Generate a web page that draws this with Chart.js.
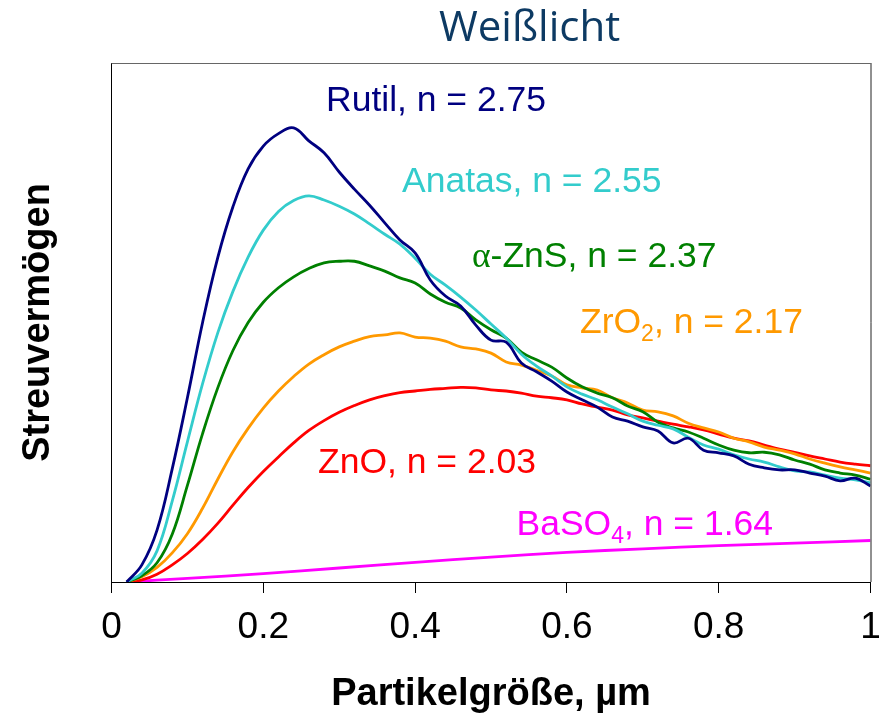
<!DOCTYPE html>
<html>
<head>
<meta charset="utf-8">
<script src="https://cdn.jsdelivr.net/npm/chart.js@4.4.1/dist/chart.umd.min.js"></script>
<style>
  html, body { margin: 0; padding: 0; background: #ffffff; }
  #wrap { width: 887px; height: 718px; position: relative; }
  canvas { display: block; }
</style>
</head>
<body>
<div id="wrap"><canvas id="c" width="887" height="718"></canvas></div>
<script>
// ---- data ----
const chartTitle = "Weißlicht";
const xAxisTitle = "Partikelgröße, µm";
const yAxisTitle = "Streuvermögen";
const xTickValues = [0, 0.2, 0.4, 0.6, 0.8, 1];
const xTickLabels = ["0", "0.2", "0.4", "0.6", "0.8", "1"];

const particleSize = [0.02, 0.04, 0.06, 0.08, 0.10, 0.12, 0.14, 0.16, 0.18, 0.20,
  0.22, 0.24, 0.26, 0.28, 0.30, 0.32, 0.34, 0.36, 0.38, 0.40,
  0.42, 0.44, 0.46, 0.48, 0.50, 0.52, 0.54, 0.56, 0.58, 0.60,
  0.62, 0.64, 0.66, 0.68, 0.70, 0.72, 0.74, 0.76, 0.78, 0.80,
  0.82, 0.84, 0.86, 0.88, 0.90, 0.92, 0.94, 0.96, 0.98, 1.00];

const rutil = [0, 3.3, 10.0, 21.8, 35.5, 50.0, 62.5, 72.3, 79.6, 84.0,
  86.4, 87.5, 85.0, 82.7, 79.0, 75.7, 72.6, 69.2, 65.9, 63.4,
  58.2, 55.1, 53.2, 49.5, 46.6, 46.2, 42.2, 40.5, 38.7, 36.6,
  35.1, 33.7, 31.8, 31.0, 29.9, 29.1, 26.8, 27.7, 25.4, 24.9,
  24.3, 22.7, 22.0, 21.6, 21.6, 21.0, 20.4, 19.5, 20.0, 18.5];

const anatas = [0, 1.7, 6.0, 15.6, 27.0, 38.2, 48.0, 56.0, 62.6, 67.8,
  71.4, 73.5, 74.4, 73.6, 72.4, 70.9, 69.0, 67.0, 65.1, 62.4,
  59.3, 57.2, 54.9, 52.4, 49.7, 47.0, 43.9, 41.6, 39.7, 37.6,
  36.2, 35.1, 33.7, 32.4, 31.0, 30.2, 29.5, 27.9, 26.4, 25.6,
  24.5, 23.7, 23.1, 22.2, 21.4, 21.2, 20.6, 20.0, 19.7, 19.1];

const zns = [0, 1.2, 3.7, 9.2, 18.6, 28.6, 37.4, 44.6, 50.0, 53.9,
  56.7, 58.8, 60.4, 61.5, 61.8, 61.8, 60.9, 59.9, 58.6, 57.6,
  55.5, 53.9, 52.8, 50.5, 48.6, 47.0, 44.3, 42.8, 41.4, 39.3,
  37.6, 36.4, 35.5, 33.9, 32.8, 30.8, 29.7, 28.9, 27.7, 26.4,
  25.4, 24.9, 25.0, 24.5, 23.5, 22.7, 21.6, 21.0, 20.6, 19.8];

const zro2 = [0, 1.0, 2.8, 5.6, 9.3, 14.2, 19.8, 25.1, 29.6, 33.5,
  36.8, 39.6, 42.0, 43.8, 45.3, 46.4, 47.3, 47.6, 48.0, 47.2,
  47.0, 46.4, 45.3, 44.9, 44.1, 42.4, 41.8, 40.8, 39.7, 38.0,
  37.4, 37.0, 35.5, 34.5, 33.1, 32.8, 32.0, 30.6, 29.7, 28.9,
  27.7, 27.0, 26.0, 25.4, 24.7, 23.7, 22.9, 22.2, 21.6, 21.0];

const zno = [0, 0.4, 1.5, 3.3, 5.5, 8.2, 11.3, 14.8, 18.2, 21.3,
  24.1, 26.8, 29.2, 31.1, 32.7, 34.0, 35.1, 35.9, 36.5, 36.8,
  37.1, 37.3, 37.5, 37.4, 37.0, 36.8, 36.4, 35.8, 35.5, 35.1,
  34.3, 33.7, 33.1, 32.2, 31.6, 31.0, 30.4, 29.9, 29.3, 28.5,
  27.7, 27.2, 26.4, 25.6, 25.0, 24.3, 23.7, 23.1, 22.7, 22.4];

const baso4Size = [0.02, 0.1, 0.2, 0.3, 0.4, 0.5, 0.6, 0.7, 0.8, 0.9, 1.0];
const baso4 = [0, 0.7, 1.6, 2.7, 3.8, 4.8, 5.7, 6.4, 7.0, 7.5, 8.0];

const seriesNames = ["Rutil", "Anatas", "α-ZnS", "ZrO2", "ZnO", "BaSO4"];
const seriesColors = ["#000080", "#33CCCC", "#008000", "#FF9900", "#FF0000", "#FF00FF"];

function toPoints(xs, ys) { return xs.map((x, i) => ({ x: x, y: ys[i] })); }

const datasets = [
  { label: seriesNames[0], data: toPoints(particleSize, rutil), borderColor: seriesColors[0] },
  { label: seriesNames[1], data: toPoints(particleSize, anatas), borderColor: seriesColors[1] },
  { label: seriesNames[2], data: toPoints(particleSize, zns), borderColor: seriesColors[2] },
  { label: seriesNames[3], data: toPoints(particleSize, zro2), borderColor: seriesColors[3] },
  { label: seriesNames[4], data: toPoints(particleSize, zno), borderColor: seriesColors[4] },
  { label: seriesNames[5], data: toPoints(baso4Size, baso4), borderColor: seriesColors[5] }
].map(d => Object.assign(d, { borderWidth: 2.8, pointRadius: 0, tension: 0.4, fill: false }));

// ---- annotation text pieces: [text, isSub, fontFamily] ----
function drawPieces(ctx, pieces, x, y, color, size, align) {
  const subSize = Math.round(size * 0.65);
  const fontFor = p => (p[1] ? subSize : size) + "px " + (p[2] || "'Liberation Sans', Arial, sans-serif");
  let total = 0;
  pieces.forEach(p => { ctx.font = fontFor(p); total += ctx.measureText(p[0]).width; });
  let cx = align === "right" ? x - total : x;
  ctx.fillStyle = color;
  ctx.textAlign = "left";
  ctx.textBaseline = "alphabetic";
  pieces.forEach(p => {
    ctx.font = fontFor(p);
    ctx.fillText(p[0], cx, p[1] ? y + 8 : y);
    cx += ctx.measureText(p[0]).width;
  });
  return { left: align === "right" ? x - total : x, width: total };
}

const labelPlugin = {
  id: "labels",
  afterDatasetsDraw(chart) {
    const ctx = chart.ctx;
    ctx.save();
    const fs = 35.5;
    drawPieces(ctx, [["Rutil, n = 2.75", false]], 326, 111, seriesColors[0], fs, "left");
    drawPieces(ctx, [["Anatas, n = 2.55", false]], 402, 192, seriesColors[1], fs, "left");
    drawPieces(ctx, [["α", false, "'Liberation Serif', 'DejaVu Serif', serif"], ["-ZnS, n = 2.37", false]], 472, 267, seriesColors[2], fs, "left");
    drawPieces(ctx, [["ZrO", false], ["2", true], [", n = 2.17", false]], 580, 333, seriesColors[3], fs, "left");
    drawPieces(ctx, [["ZnO, n = 2.03", false]], 318, 473, seriesColors[4], fs, "left");
    // BaSO4 label with white box behind
    ctx.fillStyle = "#ffffff";
    ctx.fillRect(515, 506, 262, 36);
    drawPieces(ctx, [["BaSO", false], ["4", true], [", n = 1.64", false]], 773, 535, seriesColors[5], fs, "right");
    ctx.restore();
  },
  afterDraw(chart) {
    const ctx = chart.ctx;
    const a = chart.chartArea;
    ctx.save();
    // frame: top and right edges
    ctx.lineWidth = 1;
    ctx.strokeStyle = "#666666";
    ctx.beginPath();
    ctx.moveTo(a.left, a.top + 0.5);
    ctx.lineTo(a.right, a.top + 0.5);
    ctx.stroke();
    ctx.strokeStyle = "#222222";
    ctx.beginPath();
    ctx.moveTo(a.right + 0.5, a.top);
    ctx.lineTo(a.right + 0.5, a.bottom);
    ctx.stroke();
    // chart title
    ctx.fillStyle = "#0d3a63";
    ctx.font = "42px 'Open Sans', 'Noto Sans', sans-serif";
    ctx.textAlign = "left";
    ctx.textBaseline = "alphabetic";
    ctx.fillText(chartTitle, 439, 41);
    ctx.restore();
  }
};

Chart.defaults.font.family = "'Liberation Sans', Arial, sans-serif";
Chart.defaults.color = "#000000";

new Chart(document.getElementById("c"), {
  type: "line",
  data: { datasets: datasets },
  plugins: [labelPlugin],
  options: {
    responsive: false,
    animation: false,
    events: [],
    layout: { padding: { top: 63, right: 16.5, left: 0, bottom: 0 } },
    plugins: { legend: { display: false }, tooltip: { enabled: false }, title: { display: false } },
    scales: {
      x: {
        type: "linear",
        min: 0,
        max: 1,
        afterFit: s => { s.height = 136; s.paddingLeft = 0; s.paddingRight = 0; },
        afterBuildTicks: s => { s.ticks = xTickValues.map(v => ({ value: v })); },
        ticks: {
          autoSkip: false,
          maxRotation: 0,
          padding: 13,
          font: { size: 37 },
          color: "#000000",
          callback: (v) => { const i = xTickValues.indexOf(v); return i >= 0 ? xTickLabels[i] : ""; }
        },
        grid: { drawOnChartArea: false, drawTicks: true, tickLength: 11, color: "#000000", lineWidth: 1 },
        border: { display: true, color: "#000000", width: 1 },
        title: { display: true, text: xAxisTitle, font: { size: 38, weight: "bold" }, color: "#000000", padding: { top: 0, bottom: 1 } }
      },
      y: {
        type: "linear",
        min: 0,
        max: 100,
        afterFit: s => { s.width = 111.5; s.paddingTop = 0; s.paddingBottom = 0; },
        ticks: { display: false },
        grid: { display: false, drawTicks: false },
        border: { display: true, color: "#000000", width: 1 },
        title: { display: true, text: yAxisTitle, font: { size: 38, weight: "bold" }, color: "#000000", padding: { top: 16, bottom: 0 } }
      }
    }
  }
});
</script>
</body>
</html>
